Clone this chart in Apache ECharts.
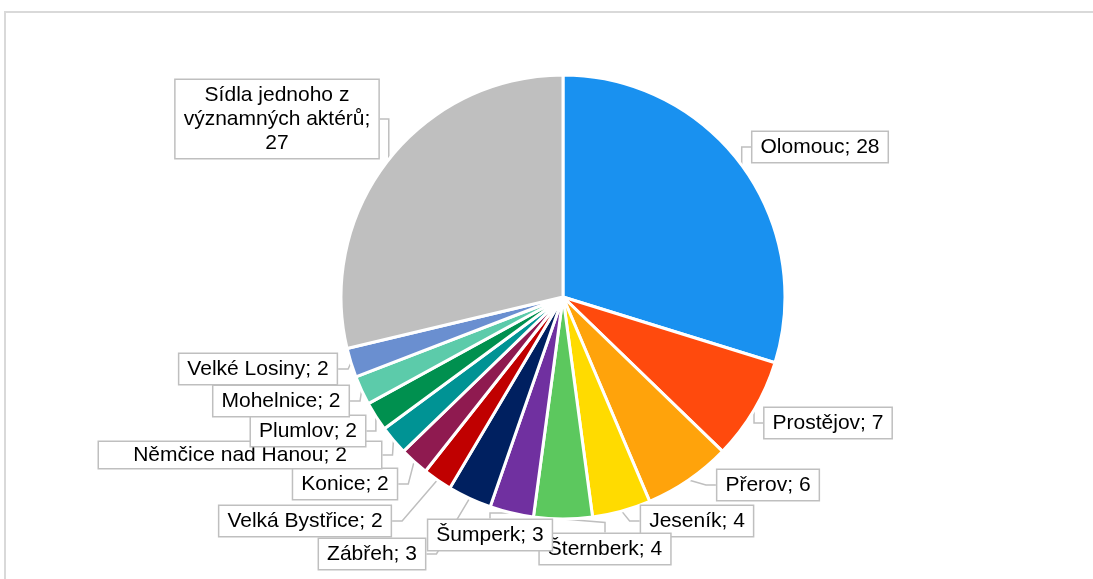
<!DOCTYPE html>
<html>
<head>
<meta charset="utf-8">
<script src="https://cdn.jsdelivr.net/npm/echarts@6/dist/echarts.min.js"></script>
<style>
  html, body { margin: 0; padding: 0; background: #fff; }
  #main { width: 1093px; height: 579px; }
</style>
</head>
<body>
<div id="main"></div>
<script>
// data
var categories = ['Olomouc', 'Prostějov', 'Přerov', 'Jeseník', 'Šternberk', 'Šumperk', 'Zábřeh',
    'Velká Bystřice', 'Konice', 'Němčice nad Hanou', 'Plumlov', 'Mohelnice', 'Velké Losiny',
    'Sídla jednoho z významných aktérů'];
var values = [28, 7, 6, 4, 4, 3, 3, 2, 2, 2, 2, 2, 2, 27];
var colors = ['#1991f0', '#ff4a0d', '#ffa30b', '#ffdb00', '#5cc85e', '#7030a0', '#002060',
    '#c00000', '#8f1a50', '#009394', '#00904f', '#5ccbaa', '#6a8fd0', '#bfbfbf'];

// label box centres (layout only)
var labelPos = [[820, 147], [828, 423], [768, 485], [697, 521], [605, 549], [490, 535], [372, 554],
    [305, 521], [345, 484], [240, 455], [308, 431], [281, 401], [258, 369], [277, 119]];

var myChart = echarts.init(document.getElementById('main'));

var seriesData = categories.map(function (c, i) {
    var item = { name: c, value: values[i], itemStyle: { color: colors[i] } };
    if (c === 'Němčice nad Hanou') item.label = { width: 266, align: 'center', padding: [1, 8, 1, 8] };
    return item;
});

var option = {
    animation: false,
    graphic: [{
        type: 'rect',
        shape: { x: 5, y: 12, width: 1200, height: 700 },
        style: { fill: 'none', stroke: '#d9d9d9', lineWidth: 2 }
    }],
    series: [
        {
            type: 'pie',
            center: [563, 297],
            radius: 222,
            startAngle: 90,
            clockwise: true,
            data: seriesData,
            itemStyle: { borderColor: '#fff', borderWidth: 3 },
            label: {
                show: true,
                position: 'outside',
                fontFamily: 'Arial, "Liberation Sans", sans-serif',
                fontSize: 21,
                lineHeight: 24,
                color: '#000',
                backgroundColor: '#fff',
                borderColor: '#bfbfbf',
                borderWidth: 1.5,
                padding: [3, 8, 3, 8],
                formatter: function (p) {
                    if (p.name.length > 20) {
                        return p.name.replace(' z ', ' z\n') + ';\n' + p.value;
                    }
                    return p.name + '; ' + p.value;
                }
            },
            labelLine: {
                show: true,
                length: 10,
                length2: 10,
                lineStyle: { color: '#bfbfbf', width: 1.5 }
            },
            labelLayout: function (params) {
                var pos = labelPos[params.dataIndex];
                return { x: pos[0], y: pos[1], align: 'center', verticalAlign: 'middle' };
            },
            emphasis: { disabled: true }
        }
    ]
};

myChart.setOption(option);
</script>
</body>
</html>
